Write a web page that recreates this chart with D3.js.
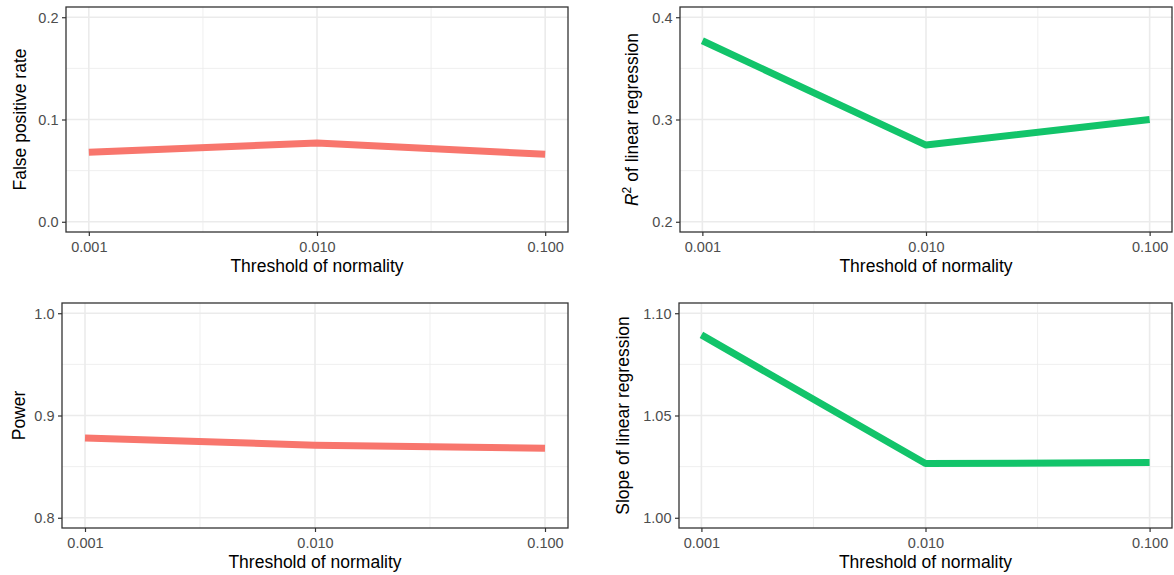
<!DOCTYPE html>
<html>
<head>
<meta charset="utf-8">
<script src="https://cdn.jsdelivr.net/npm/d3@7"></script>
<style>
  body { margin: 0; background: #fff; }
  svg { font-family: "Liberation Sans", Arial, Helvetica, sans-serif; }
</style>
</head>
<body>
<svg width="1174" height="575"></svg>
<script>
// Data
const thresholds = [0.001, 0.010, 0.100];
const thresholdLabels = ["0.001", "0.010", "0.100"];

const falsePositive = [0.068, 0.077, 0.066];
const rSquared = [0.377, 0.275, 0.300];
const power = [0.878, 0.871, 0.868];
const slope = [1.0894, 1.0265, 1.027];

const fpTicks = [0.0, 0.1, 0.2];
const r2Ticks = [0.2, 0.3, 0.4];
const powerTicks = [0.8, 0.9, 1.0];
const slopeTicks = [1.00, 1.05, 1.10];

const red = "#F8766D", green = "#12C46A";

const svg = d3.select("svg");

const panels = [
  {box: [66, 7, 568, 232], values: falsePositive, lim: [0, 0.2], ticks: fpTicks, fmt: d3.format(".1f"), color: red, label: "False positive rate", lx: 26},
  {box: [680, 7, 1172, 232], values: rSquared, lim: [0.2, 0.4], ticks: r2Ticks, fmt: d3.format(".1f"), color: green, label: "r2", lx: 638},
  {box: [62, 303, 568, 528], values: power, lim: [0.8, 1.0], ticks: powerTicks, fmt: d3.format(".1f"), color: red, label: "Power", lx: 25},
  {box: [679, 303, 1172, 528], values: slope, lim: [1.0, 1.1], ticks: slopeTicks, fmt: d3.format(".2f"), color: green, label: "Slope of linear regression", lx: 629}
];

panels.forEach(p => {
  const [x0, y0, x1, y1] = p.box;
  const ly = Math.log10;
  const xr = ly(thresholds[2]) - ly(thresholds[0]);
  const x = d3.scaleLog()
      .domain([Math.pow(10, ly(thresholds[0]) - xr * 0.05), Math.pow(10, ly(thresholds[2]) + xr * 0.05)])
      .range([x0, x1]);
  const yr = p.lim[1] - p.lim[0];
  const y = d3.scaleLinear()
      .domain([p.lim[0] - yr * 0.05, p.lim[1] + yr * 0.05])
      .range([y1, y0]);

  const g = svg.append("g");

  // minor grid
  const xMinor = [Math.sqrt(thresholds[0] * thresholds[1]), Math.sqrt(thresholds[1] * thresholds[2])];
  const yMinor = [(p.ticks[0] + p.ticks[1]) / 2, (p.ticks[1] + p.ticks[2]) / 2];
  g.selectAll(".xminor").data(xMinor).enter().append("line")
      .attr("x1", d => x(d)).attr("x2", d => x(d))
      .attr("y1", y0).attr("y2", y1)
      .attr("stroke", "#EBEBEB").attr("stroke-width", 0.8);
  g.selectAll(".yminor").data(yMinor).enter().append("line")
      .attr("x1", x0).attr("x2", x1)
      .attr("y1", d => y(d)).attr("y2", d => y(d))
      .attr("stroke", "#EBEBEB").attr("stroke-width", 0.8);
  // major grid
  g.selectAll(".xmajor").data(thresholds).enter().append("line")
      .attr("x1", d => x(d)).attr("x2", d => x(d))
      .attr("y1", y0).attr("y2", y1)
      .attr("stroke", "#EBEBEB").attr("stroke-width", 1.6);
  g.selectAll(".ymajor").data(p.ticks).enter().append("line")
      .attr("x1", x0).attr("x2", x1)
      .attr("y1", d => y(d)).attr("y2", d => y(d))
      .attr("stroke", "#EBEBEB").attr("stroke-width", 1.6);

  // line
  const line = d3.line()
      .x((d, i) => x(thresholds[i]))
      .y(d => y(d));
  g.append("path")
      .datum(p.values)
      .attr("d", line)
      .attr("fill", "none")
      .attr("stroke", p.color)
      .attr("stroke-width", 7)
      .attr("stroke-linejoin", "round")
      .attr("stroke-linecap", "butt");

  // border
  g.append("rect")
      .attr("x", x0).attr("y", y0)
      .attr("width", x1 - x0).attr("height", y1 - y0)
      .attr("fill", "none").attr("stroke", "#333333").attr("stroke-width", 1.3);

  // axes
  const xAxis = g.append("g")
      .attr("transform", `translate(0,${y1})`)
      .call(d3.axisBottom(x).tickValues(thresholds).tickFormat((d, i) => thresholdLabels[i]).tickSize(4).tickPadding(5.5));
  const yAxis = g.append("g")
      .attr("transform", `translate(${x0},0)`)
      .call(d3.axisLeft(y).tickValues(p.ticks).tickFormat(p.fmt).tickSize(4).tickPadding(3.5));
  [xAxis, yAxis].forEach(a => {
    a.select(".domain").remove();
    a.selectAll(".tick line").attr("stroke", "#333333").attr("stroke-width", 1.2);
    a.selectAll(".tick text").attr("fill", "#4D4D4D").style("font-size", "14.5px")
      .style("font-family", "'Liberation Sans', Arial, sans-serif");
  });
  yAxis.selectAll(".tick text").attr("dy", "0.35em");

  // x title
  g.append("text")
      .attr("x", (x0 + x1) / 2).attr("y", y1 + 40)
      .attr("text-anchor", "middle")
      .style("font-size", "17.5px")
      .text("Threshold of normality");

  // y title
  const yt = g.append("text")
      .attr("transform", `translate(${p.lx},${(y0 + y1) / 2}) rotate(-90)`)
      .attr("text-anchor", "middle")
      .style("font-size", "17.5px");
  if (p.label === "r2") {
    yt.append("tspan").style("font-style", "italic").text("R");
    yt.append("tspan").attr("dy", -7).style("font-size", "12px").text("2");
    yt.append("tspan").attr("dy", 7).text(" of linear regression");
  } else {
    yt.text(p.label);
  }
});
</script>
</body>
</html>
